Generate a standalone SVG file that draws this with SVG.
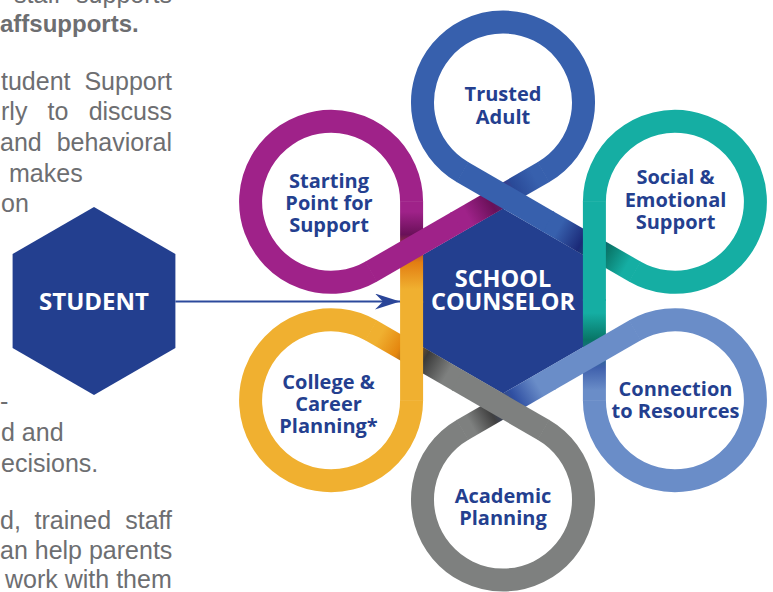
<svg xmlns="http://www.w3.org/2000/svg" width="773" height="592" viewBox="0 0 773 592">
<style>
.body{font-family:"Liberation Sans",Arial,sans-serif;font-size:25px;fill:#6d6e71}
.bold{font-weight:700;font-size:24px}
.lbl{font-family:"Open Sans","Noto Sans",sans-serif;font-weight:700;font-size:20px;fill:#243f8f;text-anchor:middle}
.hexlbl{font-family:"Open Sans","Noto Sans",sans-serif;font-weight:700;fill:#ffffff;text-anchor:middle}
.hex{fill:#233f8f}
.rb{fill:none;stroke-width:23}
</style>
<defs>
<linearGradient id="g0" gradientUnits="userSpaceOnUse" x1="594.41" y1="400.25" x2="594.41" y2="301">
<stop offset="0" stop-color="#6a8dc8"/><stop offset="0.1" stop-color="#6a8dc8"/><stop offset="0.33" stop-color="#3f60ac"/><stop offset="0.61" stop-color="#087566"/><stop offset="0.88" stop-color="#15aea3"/><stop offset="1" stop-color="#15aea3"/>
</linearGradient>
<linearGradient id="g300" gradientUnits="userSpaceOnUse" x1="634.66" y1="271.47" x2="548.70" y2="221.84">
<stop offset="0" stop-color="#15aea3"/><stop offset="0.1" stop-color="#15aea3"/><stop offset="0.33" stop-color="#0a7a6c"/><stop offset="0.61" stop-color="#1b2a78"/><stop offset="0.88" stop-color="#3760ad"/><stop offset="1" stop-color="#3760ad"/>
</linearGradient>
<linearGradient id="g240" gradientUnits="userSpaceOnUse" x1="543.25" y1="172.22" x2="457.30" y2="221.84">
<stop offset="0" stop-color="#3760ad"/><stop offset="0.1" stop-color="#3760ad"/><stop offset="0.33" stop-color="#2a4a98"/><stop offset="0.61" stop-color="#6a1059"/><stop offset="0.88" stop-color="#9f2289"/><stop offset="1" stop-color="#9f2289"/>
</linearGradient>
<linearGradient id="g180" gradientUnits="userSpaceOnUse" x1="411.59" y1="201.75" x2="411.59" y2="301">
<stop offset="0" stop-color="#9f2289"/><stop offset="0.1" stop-color="#9f2289"/><stop offset="0.33" stop-color="#6a1059"/><stop offset="0.61" stop-color="#e27d12"/><stop offset="0.88" stop-color="#f0b030"/><stop offset="1" stop-color="#f0b030"/>
</linearGradient>
<linearGradient id="g120" gradientUnits="userSpaceOnUse" x1="371.34" y1="330.54" x2="457.30" y2="380.16">
<stop offset="0" stop-color="#f0b030"/><stop offset="0.1" stop-color="#f0b030"/><stop offset="0.33" stop-color="#e5870f"/><stop offset="0.61" stop-color="#3a3a3a"/><stop offset="0.88" stop-color="#7e807f"/><stop offset="1" stop-color="#7e807f"/>
</linearGradient>
<linearGradient id="g60" gradientUnits="userSpaceOnUse" x1="462.75" y1="429.79" x2="548.70" y2="380.16">
<stop offset="0" stop-color="#7e807f"/><stop offset="0.1" stop-color="#7e807f"/><stop offset="0.33" stop-color="#404040"/><stop offset="0.61" stop-color="#2f4fa2"/><stop offset="0.88" stop-color="#6a8dc8"/><stop offset="1" stop-color="#6a8dc8"/>
</linearGradient>
<marker id="arr" markerUnits="userSpaceOnUse" viewBox="0 0 25 16" refX="25" refY="8" markerWidth="25" markerHeight="16" orient="auto">
<path d="M0,0 L25,8 L0,16 L8,8 Z" fill="#2a4598"/>
</marker>
</defs>

<g id="body-text" class="body">
<text x="14" y="2.5">staff</text><text x="172" y="2.5" text-anchor="end">supports</text>
<text x="0" y="31.5" class="bold">affsupports.</text>
<text x="1" y="89.5">tudent</text><text x="172" y="89.5" text-anchor="end">Support</text>
<text x="1" y="120">rly</text><text x="47.6" y="120">to</text><text x="172" y="120" text-anchor="end">discuss</text>
<text x="0" y="150.5">and</text><text x="172" y="150.5" text-anchor="end">behavioral</text>
<text x="9" y="181.5">makes</text>
<text x="1" y="212">on</text>
<text x="0" y="410">-</text>
<text x="1" y="441">d and</text>
<text x="1" y="472">ecisions.</text>
<text x="0" y="529">d,</text><text x="34.6" y="529">trained</text><text x="172" y="529" text-anchor="end">staff</text>
<text x="0" y="558.5">an help parents</text>
<text x="5" y="588">work with them</text>
</g>

<g id="student">
<polygon class="hex" points="94,207 175.4,254 175.4,348 94,395 12.6,348 12.6,254"/>
<text class="hexlbl" x="94" y="310" font-size="24">STUDENT</text>
</g>

<g id="school-counselor">
<polygon class="hex" points="503,208.6 583,254.8 583,347.2 503,393.4 423,347.2 423,254.8"/>
<text class="hexlbl" x="503" y="287" font-size="23.5">SCHOOL</text>
<text class="hexlbl" x="503" y="310" font-size="23.5">COUNSELOR</text>
</g>

<g id="petal-trusted-adult">
<path class="rb" stroke="#3760ad" d="M462.75,172.22 A80.5,80.5 0 1 1 543.25,172.22"/>
<text class="lbl" x="503" y="101">Trusted</text>
<text class="lbl" x="503" y="123.5">Adult</text>
</g>
<g id="petal-social-emotional">
<path class="rb" stroke="#15aea3" d="M594.41,201.75 A80.5,80.5 0 1 1 634.66,271.47"/>
<text class="lbl" x="675.5" y="184">Social &amp;</text>
<text class="lbl" x="675.5" y="206.5">Emotional</text>
<text class="lbl" x="675.5" y="229">Support</text>
</g>
<g id="petal-connection">
<path class="rb" stroke="#6a8dc8" d="M634.66,330.54 A80.5,80.5 0 1 1 594.41,400.25"/>
<text class="lbl" x="675.5" y="396">Connection</text>
<text class="lbl" x="675.5" y="418">to Resources</text>
</g>
<g id="petal-academic">
<path class="rb" stroke="#7e807f" d="M543.25,429.79 A80.5,80.5 0 1 1 462.75,429.79"/>
<text class="lbl" x="503" y="503">Academic</text>
<text class="lbl" x="503" y="525">Planning</text>
</g>
<g id="petal-college-career">
<path class="rb" stroke="#f0b030" d="M411.59,400.25 A80.5,80.5 0 1 1 371.34,330.54"/>
<text class="lbl" x="328.5" y="388.5">College &amp;</text>
<text class="lbl" x="328.5" y="410.5">Career</text>
<text class="lbl" x="328.5" y="432.5">Planning*</text>
</g>
<g id="petal-starting-point">
<path class="rb" stroke="#9f2289" d="M371.34,271.47 A80.5,80.5 0 1 1 411.59,201.75"/>
<text class="lbl" x="329" y="187.5">Starting</text>
<text class="lbl" x="329" y="210">Point for</text>
<text class="lbl" x="329" y="232">Support</text>
</g>

<g id="ribbon-links">
<path class="rb" stroke="url(#g0)" d="M594.41,400.75 L594.41,299"/>
<path class="rb" stroke="url(#g300)" d="M635.09,271.72 L546.97,220.84"/>
<path class="rb" stroke="url(#g240)" d="M543.68,171.97 L455.57,222.84"/>
<path class="rb" stroke="url(#g180)" d="M411.59,201.25 L411.59,303"/>
<path class="rb" stroke="url(#g120)" d="M370.91,330.29 L459.03,381.16"/>
<path class="rb" stroke="url(#g60)" d="M462.32,430.04 L550.43,379.16"/>
<path class="rb" stroke="#15aea3" d="M594.41,301 L594.41,201.25"/>
<path class="rb" stroke="#3760ad" d="M548.70,221.84 L462.32,171.97"/>
<path class="rb" stroke="#9f2289" d="M457.30,221.84 L370.91,271.72"/>
<path class="rb" stroke="#f0b030" d="M411.59,301 L411.59,400.75"/>
<path class="rb" stroke="#7e807f" d="M457.30,380.16 L543.68,430.04"/>
<path class="rb" stroke="#6a8dc8" d="M548.70,380.16 L635.09,330.29"/>
</g>

<g id="connectors">
<line x1="175.4" y1="301.5" x2="400" y2="301.5" stroke="#2c4a9c" stroke-width="2" marker-end="url(#arr)"/>
</g>
</svg>
